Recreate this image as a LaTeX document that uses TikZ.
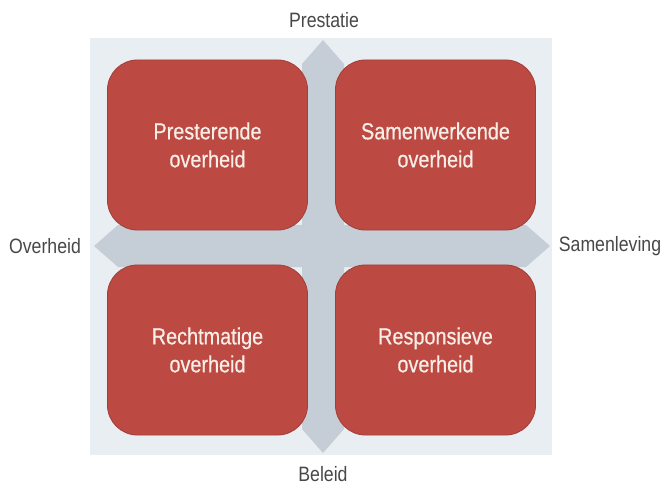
\documentclass[tikz,border=0pt]{standalone}
\usepackage{fontspec}
\setmainfont[FakeStretch=0.85]{Liberation Sans}
\newfontfamily\quadfont[FakeStretch=0.85,FakeBold=0.5]{Liberation Sans}
\usetikzlibrary{positioning}

\begin{document}
\begin{tikzpicture}[x=0.025cm, y=-0.025cm,
    quadrant/.style={draw=boxred!85!black, line width=0.6pt, fill=boxred, text=boxtext,
        minimum width=5cm, minimum height=4.25cm, rounded corners=0.75cm,
        align=center, font=\quadfont\fontsize{16.6}{19.9}\selectfont},
    axislabel/.style={text=labelgray, font=\fontsize{14.8}{18}\selectfont}]
    \definecolor{boxred}{RGB}{189,74,66}
    \definecolor{boxtext}{RGB}{248,238,232}
    \definecolor{panelblue}{RGB}{233,238,242}
    \definecolor{crossblue}{RGB}{197,206,214}
    \definecolor{labelgray}{RGB}{72,72,72}

    \useasboundingbox (0,0) rectangle (662,486);

    % Light panel behind everything
    \fill[panelblue] (90,38) rectangle (552,455);

    % Cross with pointed ends, centre at (323,246)
    \fill[crossblue] (323,40) -- (344,64) -- (344,225) -- (526,225) -- (550,246)
        -- (526,267) -- (344,267) -- (344,429) -- (323,453) -- (302,429)
        -- (302,267) -- (118,267) -- (94,246) -- (118,225) -- (302,225)
        -- (302,64) -- cycle;

    % Four quadrants
    \node[quadrant] (presterend) at (207.5,145) {Presterende\\overheid};
    \node[quadrant] (samenwerkend) at (435.5,145) {Samenwerkende\\overheid};
    \node[quadrant] (rechtmatig) at (207.5,350) {Rechtmatige\\overheid};
    \node[quadrant] (responsief) at (435.5,350) {Responsieve\\overheid};

    % Axis labels
    \node[axislabel] (prestatie) at (324,20) {Prestatie};
    \node[axislabel] (beleid) at (323,474) {Beleid};
    \node[axislabel] (overheid) at (45,246) {Overheid};
    \node[axislabel] (samenleving) at (610,246) {Samenleving};
\end{tikzpicture}
\end{document}
